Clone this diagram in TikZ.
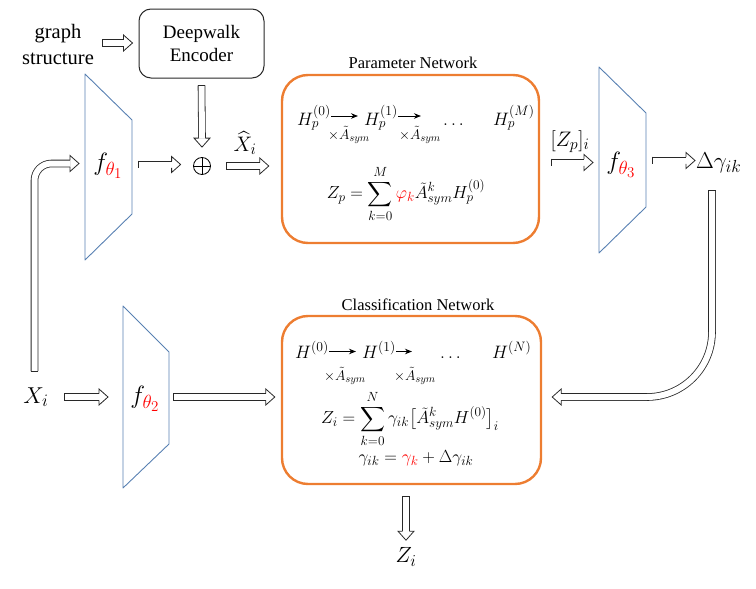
\RequirePackage{fix-cm}
\documentclass[tikz,border=0pt]{standalone}
\usepackage{amsmath}
\usepackage{fontspec}
\setmainfont{Liberation Serif}
\renewcommand\defaultscriptratio{.76}
\renewcommand\defaultscriptscriptratio{.6}
\usetikzlibrary{arrows.meta,calc}
\definecolor{orng}{RGB}{237,125,49}
\definecolor{trapc}{RGB}{88,128,178}
\definecolor{edgec}{RGB}{40,40,40}
\definecolor{redk}{RGB}{255,0,0}
\tikzset{
  shaft/.style={draw=edgec, line width=0.8pt, double=white, double distance=6pt},
  edge/.style={draw=edgec, line width=0.8pt, line join=miter},
  netbox/.style={draw=orng, line width=2.4pt, rounded corners=26pt},
  trapz/.style={draw=trapc, line width=0.9pt, line join=round},
  tarrow/.style={-{Stealth[length=7pt,width=5.5pt]}, line width=0.9pt},
  titlefont/.style={font=\fontsize{16.5}{19}\selectfont, inner sep=0},
  bmath/.style={font=\fontsize{18}{21}\selectfont, inner sep=0},
  emath/.style={font=\fontsize{17.5}{21}\selectfont, inner sep=0},
  smath/.style={font=\fontsize{14}{16}\selectfont, inner sep=0},
  bigmath/.style={font=\fontsize{25}{29}\selectfont, inner sep=0},
}
% heads (tip at #1)
\newcommand\headR[1]{\draw[edge] ($(#1)+(-9,-3.4)$) -- ($(#1)+(-9,-8)$) -- (#1) -- ($(#1)+(-9,8)$) -- ($(#1)+(-9,3.4)$);}
\newcommand\headL[1]{\draw[edge] ($(#1)+(9,-3.4)$) -- ($(#1)+(9,-8)$) -- (#1) -- ($(#1)+(9,8)$) -- ($(#1)+(9,3.4)$);}
\newcommand\headD[1]{\draw[edge] ($(#1)+(-3.4,-9)$) -- ($(#1)+(-8,-9)$) -- (#1) -- ($(#1)+(8,-9)$) -- ($(#1)+(3.4,-9)$);}
\newcommand\capH[1]{\draw[edge] ($(#1)+(0,-3.8)$) -- ($(#1)+(0,3.8)$);}
\newcommand\capV[1]{\draw[edge] ($(#1)+(-3.8,0)$) -- ($(#1)+(3.8,0)$);}
\newcommand\barR[2]{\draw[shaft] (#1) -- ($(#2)+(-9,0)$); \capH{#1} \headR{#2}}
\newcommand\barD[2]{\draw[shaft] (#1) -- ($(#2)+(0,-9)$); \capV{#1} \headD{#2}}
\begin{document}
\begin{tikzpicture}[x=1pt,y=-1pt]
\useasboundingbox (0,0) rectangle (756,589);

% ---- top left
\node[font=\fontsize{20.5}{26}\selectfont, align=center, inner sep=0] (gs) at (58,44) {graph\\structure};
\node[draw=edgec, line width=1pt, rounded corners=12pt, minimum width=125pt, minimum height=69pt,
      align=center, font=\fontsize{19}{23}\selectfont] (dw) at (201.5,43.5) {Deepwalk\\Encoder};

% ---- trapezoids
\draw[trapz] (85,74) -- (132,120) -- (132,214) -- (85,260) -- cycle;
\node[bigmath] (f1) at (108,166) {$f_{\textcolor{redk}{\theta_1}}$};
\draw[trapz] (123,306) -- (169,352) -- (169,444) -- (123,488) -- cycle;
\node[bigmath] (f2) at (145,399) {$f_{\textcolor{redk}{\theta_2}}$};
\draw[trapz] (599,67) -- (646,113) -- (646,207) -- (599,253) -- cycle;
\node[bigmath] (f3) at (621,165) {$f_{\textcolor{redk}{\theta_3}}$};
\coordinate (f1in) at (85,163.5);
\coordinate (f1out) at (132,164.5);
\coordinate (f2in) at (123,397);
\coordinate (f2out) at (169,397);
\coordinate (f3in) at (599,162.5);
\coordinate (f3out) at (646,160.5);

% ---- plus
\node[circle, draw=black, line width=0.8pt, minimum size=17pt, inner sep=0] (plus) at (202,166) {};
\draw[line width=0.8pt] (plus.north) -- (plus.south) (plus.west) -- (plus.east);

% ---- boxes
\node[netbox, minimum width=257pt, minimum height=168pt] (pb) at (410.5,159) {};
\node[titlefont, anchor=base] (pbt) at (413,68.5) {Parameter Network};
\node[netbox, minimum width=259pt, minimum height=168pt] (cb) at (411.5,400) {};
\node[titlefont, anchor=base] (cbt) at (418,310.5) {Classification Network};

% ---- labels
\node[font=\fontsize{21}{24}\selectfont, inner sep=0] (xh) at (245,143) {$\widehat{X}_i$};
\node[font=\fontsize{21}{24}\selectfont, inner sep=0] (zpl) at (570,142) {$[Z_p]_i$};
\node[font=\fontsize{23}{26}\selectfont, inner sep=0, anchor=west] (dg) at (696,163) {$\Delta\gamma_{ik}$};
\node[font=\fontsize{23}{26}\selectfont, inner sep=0] (xi) at (36,397) {$X_i$};
\node[font=\fontsize{22}{25}\selectfont, inner sep=0] (zz) at (406,557) {$Z_i$};

% ---- param box content
\coordinate (ya) at (0,116);
\node[bmath, anchor=base west] (hp0) at (297,125) {$H_p^{(0)}$};
\node[bmath, anchor=base west] (hp1) at (364,125) {$H_p^{(1)}$};
\node[bmath, anchor=base] (hpd) at (455,125) {$\dots$};
\node[bmath, anchor=base west] (hpm) at (493,125) {$H_p^{(M)}$};
\draw[tarrow] (hp0.east |- ya) -- ([xshift=-6pt]hp1.west |- ya);
\draw[tarrow] (hp1.east |- ya) -- ([xshift=-22pt]hpd.west |- ya);
\node[smath, anchor=base] (xa1) at (349,139) {$\times\tilde{A}_{sym}$};
\node[smath, anchor=base] (xa2) at (420,139) {$\times\tilde{A}_{sym}$};
\node[emath] (zpe) at (406,194) {$\displaystyle Z_p=\sum_{k=0}^{M}\textcolor{redk}{\varphi_k}\tilde{A}_{sym}^{k}H_p^{(0)}$};

% ---- class box content
\coordinate (yb) at (0,351.5);
\node[bmath, anchor=base west] (h0) at (295,358) {$H^{(0)}$};
\node[bmath, anchor=base west] (h1) at (362,358) {$H^{(1)}$};
\node[bmath, anchor=base] (hd) at (452,358) {$\dots$};
\node[bmath, anchor=base west] (hn) at (492,358) {$H^{(N)}$};
\draw[tarrow] (h0.east |- yb) -- ([xshift=-6pt]h1.west |- yb);
\draw[tarrow] (h1.east |- yb) -- ([xshift=-28pt]hd.west |- yb);
\node[smath, anchor=base] (xb1) at (345,380.5) {$\times\tilde{A}_{sym}$};
\node[smath, anchor=base] (xb2) at (415,380.5) {$\times\tilde{A}_{sym}$};
\node[emath] (zie) at (410,419) {$\displaystyle Z_i=\sum_{k=0}^{N}\gamma_{ik}\big[\tilde{A}_{sym}^{k}H^{(0)}\big]_i$};
\node[emath, anchor=base] (ge) at (416,462) {$\gamma_{ik}=\textcolor{redk}{\gamma_k}+\Delta\gamma_{ik}$};

% ---- block arrows
\coordinate (a1s) at (102,43);
\coordinate (a1t) at ([xshift=-6pt]dw.west |- a1s);
\barR{a1s}{a1t}
\coordinate (a2s) at ([yshift=-7pt]dw.south);
\coordinate (a2t) at ([yshift=10pt]plus.north);
\barD{a2s}{a2t}
\coordinate (a3s) at ([xshift=6pt]f1out);
\coordinate (a3t) at ([xshift=-12.5pt]plus.west |- f1out);
\barR{a3s}{a3t}
\coordinate (a4s) at ([xshift=15pt]plus.east);
\coordinate (a4t) at ([xshift=-12pt]pb.west |- plus);
\barR{a4s}{a4t}
\coordinate (a5s) at ([xshift=11pt]pb.east |- f3in);
\coordinate (a5t) at ([xshift=-6pt]f3in);
\barR{a5s}{a5t}
\coordinate (a6s) at ([xshift=6pt]f3out);
\coordinate (a6t) at ([xshift=-1pt]dg.west |- f3out);
\barR{a6s}{a6t}
\coordinate (a7s) at ([xshift=28pt]xi.center);
\coordinate (a7t) at ([xshift=-15pt]f2in);
\barR{a7s}{a7t}
\coordinate (a8s) at ([xshift=4pt]f2out);
\coordinate (a8t) at ([xshift=-6pt]cb.west |- f2out);
\barR{a8s}{a8t}
\coordinate (a9s) at ([yshift=-11pt]cb.south -| zz);
\coordinate (a9t) at ([yshift=-44pt]a9s);
\barD{a9s}{a9t}

% left curved arrow: X_i -> f1
\coordinate (ls) at (34.5,371);
\coordinate (lt) at ([xshift=-6pt]f1in);
\draw[shaft, rounded corners=17pt] (ls) -- (ls |- lt) -- ($(lt)+(-9,0)$);
\capV{ls}
\headR{lt}

% right curved arrow: Delta gamma -> classification
\coordinate (rs) at (712,190);
\coordinate (rt) at ([xshift=10pt,yshift=3pt]cb.east);
\draw[shaft, rounded corners=65pt] (rs) -- (rs |- rt) -- ($(rt)+(9,0)$);
\capV{rs}
\headL{rt}
\end{tikzpicture}
\end{document}
